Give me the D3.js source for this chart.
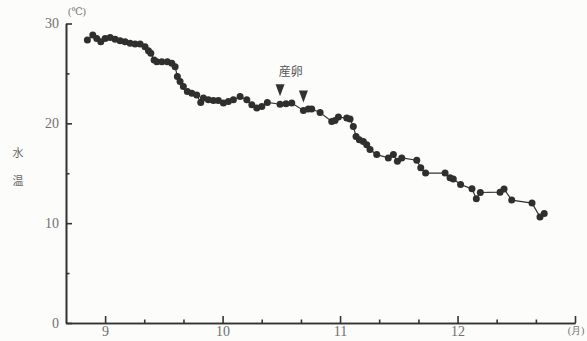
<!DOCTYPE html>
<html>
<head>
<meta charset="utf-8">
<script src="https://cdn.jsdelivr.net/npm/d3@7"></script>
<style>
  body { margin: 0; background: #fcfcfb; }
  svg text { fill: #707070; }
  .axis path, .axis line { stroke: #333; stroke-width: 1.6; }
</style>
</head>
<body>
<div id="chart"></div>
<script>
// date as decimal month (9 = 1 Sep), water temperature in degC
var months = [8.849, 8.895, 8.929, 8.963, 9.000, 9.043, 9.085, 9.128, 9.170, 9.213,
    9.255, 9.298, 9.340, 9.369, 9.389, 9.417, 9.440, 9.483, 9.530, 9.568,
    9.596, 9.615, 9.638, 9.666, 9.700, 9.738, 9.780, 9.814, 9.837, 9.879,
    9.922, 9.964, 10.007, 10.049, 10.092, 10.149, 10.206, 10.249, 10.291, 10.334,
    10.381, 10.489, 10.540, 10.589, 10.688, 10.730, 10.759, 10.830, 10.929, 10.957,
    10.986, 11.057, 11.085, 11.113, 11.136, 11.164, 11.198, 11.227, 11.255, 11.312,
    11.411, 11.454, 11.488, 11.525, 11.653, 11.687, 11.728, 11.894, 11.936, 11.964,
    12.026, 12.123, 12.160, 12.194, 12.362, 12.396, 12.461, 12.634, 12.702, 12.738];
var temps = [28.34, 28.84, 28.51, 28.17, 28.51, 28.61, 28.41, 28.27, 28.17, 28.01,
    27.94, 27.94, 27.67, 27.28, 27.02, 26.35, 26.18, 26.18, 26.18, 26.02,
    25.68, 24.68, 24.18, 23.68, 23.18, 23.02, 22.85, 22.09, 22.53, 22.36,
    22.29, 22.29, 22.03, 22.19, 22.36, 22.68, 22.36, 21.86, 21.53, 21.69,
    22.09, 21.91, 21.96, 22.03, 21.29, 21.43, 21.43, 21.09, 20.19, 20.29,
    20.63, 20.53, 20.43, 19.69, 18.69, 18.36, 18.19, 17.86, 17.37, 16.87,
    16.54, 16.87, 16.20, 16.54, 16.30, 15.54, 15.02, 15.02, 14.54, 14.42,
    13.87, 13.44, 12.44, 13.07, 13.10, 13.42, 12.31, 12.01, 10.63, 10.98];
// spawning (産卵) markers
var spawnMonths = [10.489, 10.688];
var spawnTemps = [21.91, 21.29];

var xMajor = [9, 10, 11, 12, 13];
var xMajorLabels = ["9", "10", "11", "12", ""];
var xMinor = [9.333, 9.667, 10.333, 10.667, 11.333, 11.667, 12.333, 12.667];
var yMajor = [0, 10, 20, 30];
var yMinor = [5, 15, 25];

var width = 587, height = 341;
var serif = "'Liberation Serif', 'DejaVu Serif', serif";
var cjk = "'Noto Sans CJK JP', sans-serif";

var svg = d3.select("#chart").append("svg")
    .attr("width", width)
    .attr("height", height);

var x = d3.scaleLinear().domain([8.667, 13]).range([66, 575]);
var y = d3.scaleLinear().domain([0, 30]).range([323, 23.5]);

// y axis, ticks pointing inward
svg.append("g")
    .attr("class", "axis")
    .attr("transform", "translate(66,0)")
    .call(d3.axisLeft(y).tickValues(yMinor).tickSizeInner(-3.5).tickSizeOuter(0).tickFormat(""));
var yAx = svg.append("g")
    .attr("class", "axis")
    .attr("transform", "translate(66,0)")
    .call(d3.axisLeft(y).tickValues(yMajor).tickSizeInner(-6).tickSizeOuter(0).tickPadding(7));
yAx.selectAll("text")
    .style("font-family", serif)
    .style("font-size", "14px");

// x axis
svg.append("g")
    .attr("class", "axis")
    .attr("transform", "translate(0,323)")
    .call(d3.axisBottom(x).tickValues(xMinor).tickSizeInner(-3.5).tickSizeOuter(0).tickFormat(""));
var xAx = svg.append("g")
    .attr("class", "axis")
    .attr("transform", "translate(0,323)")
    .call(d3.axisBottom(x).tickValues(xMajor).tickSizeInner(-7).tickSizeOuter(0).tickPadding(3)
        .tickFormat(function(d, i) { return xMajorLabels[i]; }));
xAx.selectAll("text")
    .style("font-family", serif)
    .style("font-size", "14px");

// unit labels
svg.append("text")
    .attr("x", 77).attr("y", 15)
    .attr("text-anchor", "middle")
    .style("font-family", serif)
    .style("font-size", "10px")
    .text("(℃)");
svg.append("text")
    .attr("x", 576).attr("y", 334)
    .attr("text-anchor", "middle")
    .style("font-family", serif)
    .style("font-size", "10px")
    .text("(月)");
svg.append("text")
    .attr("x", 18).attr("y", 157)
    .attr("text-anchor", "middle")
    .style("font-family", cjk)
    .style("font-size", "11px")
    .style("fill", "#666")
    .text("水");
svg.append("text")
    .attr("x", 18).attr("y", 185)
    .attr("text-anchor", "middle")
    .style("font-family", cjk)
    .style("font-size", "11px")
    .style("fill", "#666")
    .text("温");

// data line + dots
var pts = months.map(function(m, i) { return { m: m, t: temps[i] }; });
var line = d3.line()
    .x(function(d) { return x(d.m); })
    .y(function(d) { return y(d.t); });
svg.append("path")
    .attr("d", line(pts))
    .attr("fill", "none")
    .attr("stroke", "#333")
    .attr("stroke-width", 1.2);
svg.selectAll("circle.pt")
    .data(pts)
    .enter().append("circle")
    .attr("class", "pt")
    .attr("cx", function(d) { return x(d.m); })
    .attr("cy", function(d) { return y(d.t); })
    .attr("r", 3.5)
    .attr("fill", "#2f2f2f");

// spawning arrows
spawnMonths.forEach(function(m, i) {
    var cx = x(m), tip = y(spawnTemps[i]) - 8;
    svg.append("path")
        .attr("d", "M" + (cx - 4.5) + "," + (tip - 12) + "L" + (cx + 4.5) + "," + (tip - 12) + "L" + cx + "," + tip + "Z")
        .attr("fill", "#333");
});
svg.append("text")
    .attr("x", x(10.58)).attr("y", 76)
    .attr("text-anchor", "middle")
    .style("font-family", cjk)
    .style("font-size", "12px")
    .style("fill", "#555")
    .text("産卵");
</script>
</body>
</html>
